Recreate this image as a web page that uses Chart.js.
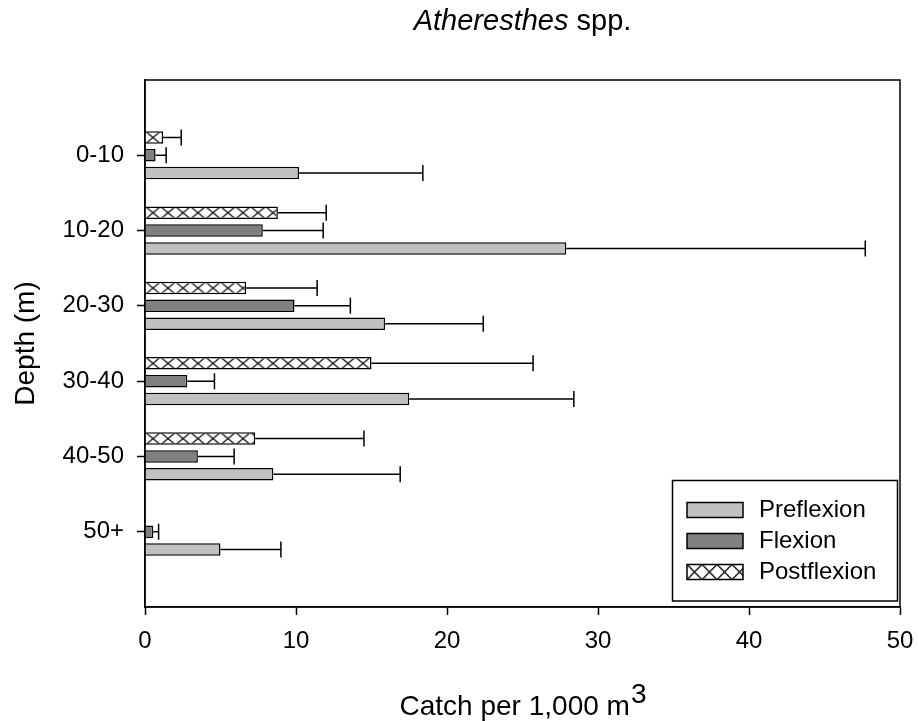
<!DOCTYPE html>
<html>
<head>
<meta charset="utf-8">
<script src="https://cdn.jsdelivr.net/npm/chart.js@4.4.1/dist/chart.umd.min.js"></script>
<style>
    html, body { margin: 0; padding: 0; background: #fff; }
    #wrap { width: 919px; height: 721px; }
</style>
</head>
<body>
<div id="wrap"><canvas id="depthChart" width="919" height="721"></canvas></div>
<script>
// depth bins, top to bottom
const depthLabels = ['0-10', '10-20', '20-30', '30-40', '40-50', '50+']

// mean catch per 1,000 m3 and upper error for each stage
const preflexion = [10.2, 27.9, 15.9, 17.5, 8.5, 5.0]
const preflexionErr = [8.2, 19.8, 6.5, 10.9, 8.4, 4.0]
const flexion = [0.7, 7.8, 9.9, 2.8, 3.5, 0.55]
const flexionErr = [0.7, 4.0, 3.7, 1.8, 2.4, 0.35]
const postflexion = [1.2, 8.8, 6.7, 15.0, 7.3, null]
const postflexionErr = [1.2, 3.2, 4.7, 10.7, 7.2, null]

const xTicks = [0, 10, 20, 30, 40, 50]

const FONT = "'Liberation Sans', Arial, Helvetica, sans-serif"
Chart.defaults.font.family = FONT
Chart.defaults.color = '#000'

// blank slots above and below so the depth labels sit on tick positions
const pad = arr => [null, ...arr, null]

// crosshatch tile used for the postflexion bars
const tile = document.createElement('canvas')
tile.width = 15
tile.height = 13
;(function () {
    const g = tile.getContext('2d')
    g.fillStyle = '#fff'
    g.fillRect(0, 0, 15, 13)
    g.strokeStyle = '#000'
    g.lineWidth = 1.3
    g.beginPath()
    g.moveTo(0, 0); g.lineTo(15, 13)
    g.moveTo(15, 0); g.lineTo(0, 13)
    g.stroke()
})()

function hatchAt(ctx, x, y, h) {
    const p = ctx.createPattern(tile, 'repeat')
    p.setTransform(new DOMMatrix([1, 0, 0, h / 13, x, y]))
    return p
}

const datasets = [
    { label: 'Postflexion', data: pad(postflexion), err: pad(postflexionErr), hatch: true,
      backgroundColor: () => '#fff' },
    { label: 'Flexion', data: pad(flexion), err: pad(flexionErr), backgroundColor: '#808080' },
    { label: 'Preflexion', data: pad(preflexion), err: pad(preflexionErr), backgroundColor: '#c0c0c0' },
]
datasets.forEach(d => {
    d.borderColor = '#000'
    d.borderWidth = 1.5
    d.categoryPercentage = 0.71
    d.barPercentage = 0.70
})

// legend reads top-down in growth order
const legendOrder = ['Preflexion', 'Flexion', 'Postflexion']

const extras = {
    id: 'extras',
    beforeDatasetDraw(chart, args) {
        const ds = chart.data.datasets[args.index]
        if (!ds.hatch) return
        args.meta.data.forEach((bar, i) => {
            if (ds.data[i] == null) return
            const p = bar.getProps(['y', 'base', 'height'], true)
            bar.options.backgroundColor = hatchAt(chart.ctx, p.base, p.y - p.height / 2, p.height)
        })
    },
    afterDatasetsDraw(chart) {
        const ctx = chart.ctx
        const xs = chart.scales.x
        ctx.save()
        ctx.strokeStyle = '#000'
        ctx.lineWidth = 1.5
        chart.data.datasets.forEach((ds, di) => {
            const meta = chart.getDatasetMeta(di)
            meta.data.forEach((bar, i) => {
                const v = ds.data[i]
                if (v == null || ds.err[i] == null) return
                const p = bar.getProps(['x', 'y'], true)
                const xe = xs.getPixelForValue(v + ds.err[i])
                ctx.beginPath()
                ctx.moveTo(p.x, p.y)
                ctx.lineTo(xe, p.y)
                ctx.moveTo(xe, p.y - 8)
                ctx.lineTo(xe, p.y + 8)
                ctx.stroke()
            })
        })
        ctx.restore()
    },
    afterDraw(chart) {
        const ctx = chart.ctx
        const a = chart.chartArea
        ctx.save()
        // frame round the plot
        ctx.strokeStyle = '#000'
        ctx.lineWidth = 1.5
        ctx.strokeRect(a.left, a.top, a.right - a.left, a.bottom - a.top)

        // title with italic genus
        ctx.fillStyle = '#000'
        ctx.textBaseline = 'alphabetic'
        ctx.textAlign = 'left'
        ctx.font = 'italic 29px ' + FONT
        const genus = 'Atheresthes'
        const gw = ctx.measureText(genus).width
        ctx.font = '29px ' + FONT
        const rest = ' spp.'
        const rw = ctx.measureText(rest).width
        let tx = (a.left + a.right) / 2 - (gw + rw) / 2
        ctx.font = 'italic 29px ' + FONT
        ctx.fillText(genus, tx, 30)
        ctx.font = '29px ' + FONT
        ctx.fillText(rest, tx + gw, 30)

        // x axis title with superscript
        ctx.font = '28px ' + FONT
        const main = 'Catch per 1,000 m'
        const mw = ctx.measureText(main).width
        const sw = ctx.measureText('3').width
        tx = (a.left + a.right) / 2 - (mw + sw) / 2
        ctx.fillText(main, tx, 715)
        ctx.fillText('3', tx + mw + 1, 703)

        // y axis title
        ctx.save()
        ctx.translate(34, (a.top + a.bottom) / 2)
        ctx.rotate(-Math.PI / 2)
        ctx.textAlign = 'center'
        ctx.fillText('Depth (m)', 0, 0)
        ctx.restore()

        // legend box
        const lx = 672.5, ly = 480.5, lw = 225, lh = 120.5
        ctx.fillStyle = '#fff'
        ctx.fillRect(lx, ly, lw, lh)
        ctx.strokeRect(lx, ly, lw, lh)
        ctx.font = '24px ' + FONT
        ctx.textBaseline = 'middle'
        ctx.textAlign = 'left'
        legendOrder.forEach((name, k) => {
            const ds = chart.data.datasets.find(d => d.label === name)
            const sy = 502.5 + k * 31
            ctx.fillStyle = ds.hatch ? hatchAt(ctx, 687, sy, 15) : ds.backgroundColor
            ctx.fillRect(687, sy, 56, 15)
            ctx.strokeStyle = '#000'
            ctx.lineWidth = 1.5
            ctx.strokeRect(687, sy, 56, 15)
            ctx.fillStyle = '#000'
            ctx.fillText(name, 759, sy + 8)
        })
        ctx.restore()
    },
}

const config = {
    type: 'bar',
    data: {
        labels: pad(depthLabels).map(l => l || ''),
        datasets: datasets,
    },
    options: {
        indexAxis: 'y',
        responsive: false,
        animation: false,
        layout: { padding: { top: 80, right: 19, left: 0, bottom: 0 } },
        plugins: {
            legend: { display: false },
            tooltip: { enabled: false },
        },
        scales: {
            x: {
                min: 0,
                max: 50,
                afterFit: s => {
                    s.height = 114
                    s.paddingLeft = 0
                    s.paddingRight = 0
                },
                afterBuildTicks: s => { s.ticks = xTicks.map(v => ({ value: v })) },
                ticks: { font: { size: 24 }, padding: 12, color: '#000' },
                grid: { drawOnChartArea: false, tickLength: 8, tickWidth: 1.5, tickColor: '#000' },
                border: { color: '#000', width: 1.5 },
            },
            y: {
                offset: false,
                afterFit: s => {
                    s.width = 145
                    s.paddingTop = 0
                    s.paddingBottom = 0
                },
                ticks: { font: { size: 24 }, padding: 13, color: '#000', autoSkip: false },
                grid: {
                    offset: false,
                    drawOnChartArea: false,
                    tickLength: 8,
                    tickWidth: 1.5,
                    tickColor: c => (c.tick && c.tick.label) ? '#000' : 'rgba(0,0,0,0)',
                },
                border: { color: '#000', width: 1.5 },
            },
        },
    },
    plugins: [extras],
}

const depthCtx = document.getElementById('depthChart')
window.depthChart = new Chart(depthCtx, config)
</script>
</body>
</html>
